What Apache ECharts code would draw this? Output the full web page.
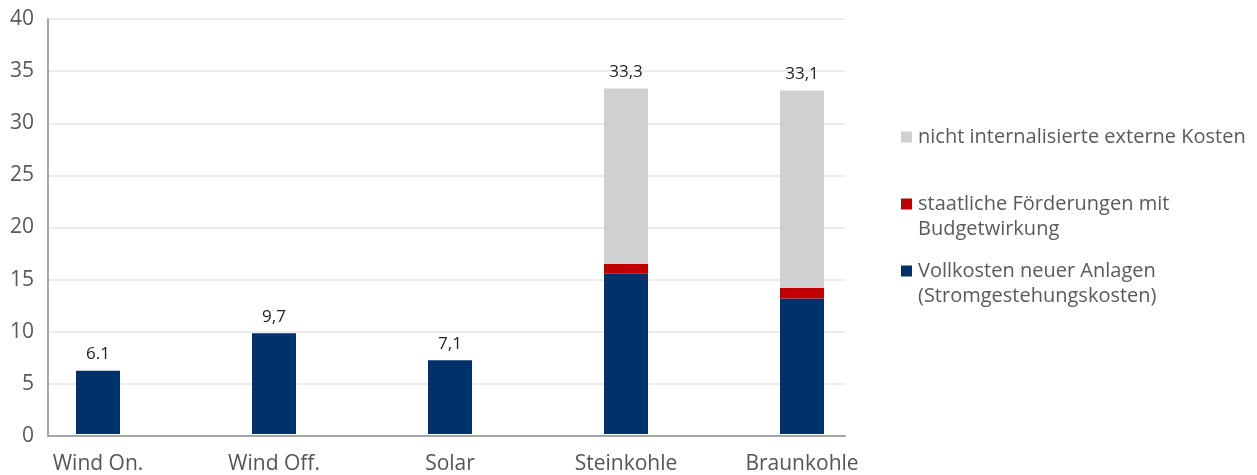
<!DOCTYPE html>
<html>
<head>
<meta charset="utf-8">
<script src="https://cdn.jsdelivr.net/npm/echarts@6/dist/echarts.min.js"></script>
<style>
html, body { margin: 0; padding: 0; background: #fff; }
#chart { width: 1257px; height: 475px; }
</style>
</head>
<body>
<div id="chart"></div>
<script>
// Kategorien und Werte (ct/kWh)
var categories = ['Wind On.', 'Wind Off.', 'Solar', 'Steinkohle', 'Braunkohle'];
var vollkosten = [6.1, 9.7, 7.1, 15.45, 13.05];
var foerderung = [0, 0, 0, 0.95, 1.05];
var externeKosten = [0, 0, 0, 16.9, 19.0];
var totalLabels = ['6.1', '9,7', '7,1', '33,3', '33,1'];
var yTicks = { min: 0, max: 40, interval: 5 };

var names = {
    grau: 'nicht internalisierte externe Kosten',
    rot: 'staatliche Förderungen mit\nBudgetwirkung',
    blau: 'Vollkosten neuer Anlagen\n(Stromgestehungskosten)'
};
var colors = { grau: '#d0d0d0', rot: '#c00000', blau: '#003269' };

var font = '"Open Sans", Lato, sans-serif';

// Label nur am obersten Segment zeigen
function withTopLabel(values, showIdx) {
    return values.map(function (v, i) {
        return {
            value: v,
            label: {
                show: showIdx.indexOf(i) >= 0,
                position: 'top',
                distance: 8,
                formatter: totalLabels[i],
                color: '#222',
                fontSize: 17,
                fontFamily: font
            }
        };
    });
}

var chart = echarts.init(document.getElementById('chart'));

var option = {
    animation: false,
    grid: [
        { left: 48, top: 19, width: 797, height: 417 },
        { left: 98, top: 19, width: 704, height: 417 }
    ],
    legend: {
        orient: 'vertical',
        left: 891,
        top: 122,
        itemGap: 22,
        itemWidth: 0,
        itemHeight: 0,
        icon: 'rect',
        selectedMode: false,
        data: [names.grau, names.rot, names.blau],
        formatter: function (name) {
            var key = name === names.grau ? 'g' : (name === names.rot ? 'r' : 'b');
            var lines = name.split('\n');
            if (lines.length < 2) lines.push(' ');
            return '{' + key + '|}{gap|}{t|' + lines[0] + '}\n{sp|}{t|' + lines[1] + '}';
        },
        textStyle: {
            fontFamily: font,
            rich: {
                g: { width: 11, height: 11, backgroundColor: colors.grau, verticalAlign: 'middle' },
                r: { width: 11, height: 11, backgroundColor: colors.rot, verticalAlign: 'middle' },
                b: { width: 11, height: 11, backgroundColor: colors.blau, verticalAlign: 'middle' },
                gap: { width: 6 },
                sp: { width: 17 },
                t: { fontSize: 20, lineHeight: 25, color: '#5a5a5a', fontFamily: font, verticalAlign: 'middle' }
            }
        }
    },
    xAxis: [
        {
            gridIndex: 0,
            type: 'category',
            data: categories,
            axisLine: { lineStyle: { color: '#a6a6a6', width: 2 } },
            axisTick: { show: false },
            axisLabel: { show: false },
            splitLine: { show: false }
        },
        {
            gridIndex: 1,
            type: 'category',
            data: categories,
            boundaryGap: false,
            axisLine: { show: false },
            axisTick: { show: false },
            axisLabel: {
                margin: 20,
                fontSize: 21,
                color: '#555',
                fontFamily: font
            }
        }
    ],
    yAxis: [
        {
            gridIndex: 0,
            type: 'value',
            min: yTicks.min,
            max: yTicks.max,
            interval: yTicks.interval,
            axisLine: { show: true, lineStyle: { color: '#a6a6a6', width: 2 } },
            axisTick: { show: false },
            axisLabel: { margin: 14, fontSize: 21, color: '#595959', fontFamily: font },
            splitLine: { lineStyle: { color: '#ececec', width: 2 } }
        },
        {
            gridIndex: 1,
            type: 'value',
            min: yTicks.min,
            max: yTicks.max,
            interval: yTicks.interval,
            show: false
        }
    ],
    series: [
        {
            name: names.blau,
            type: 'bar',
            stack: 'kosten',
            xAxisIndex: 1,
            yAxisIndex: 1,
            barWidth: 44,
            itemStyle: { color: colors.blau },
            data: withTopLabel(vollkosten, [0, 1, 2])
        },
        {
            name: names.rot,
            type: 'bar',
            stack: 'kosten',
            xAxisIndex: 1,
            yAxisIndex: 1,
            barWidth: 44,
            itemStyle: { color: colors.rot },
            data: foerderung
        },
        {
            name: names.grau,
            type: 'bar',
            stack: 'kosten',
            xAxisIndex: 1,
            yAxisIndex: 1,
            barWidth: 44,
            itemStyle: { color: colors.grau },
            data: withTopLabel(externeKosten, [3, 4])
        }
    ]
};

chart.setOption(option);
window.addEventListener('resize', function () { chart.resize(); });
</script>
</body>
</html>
